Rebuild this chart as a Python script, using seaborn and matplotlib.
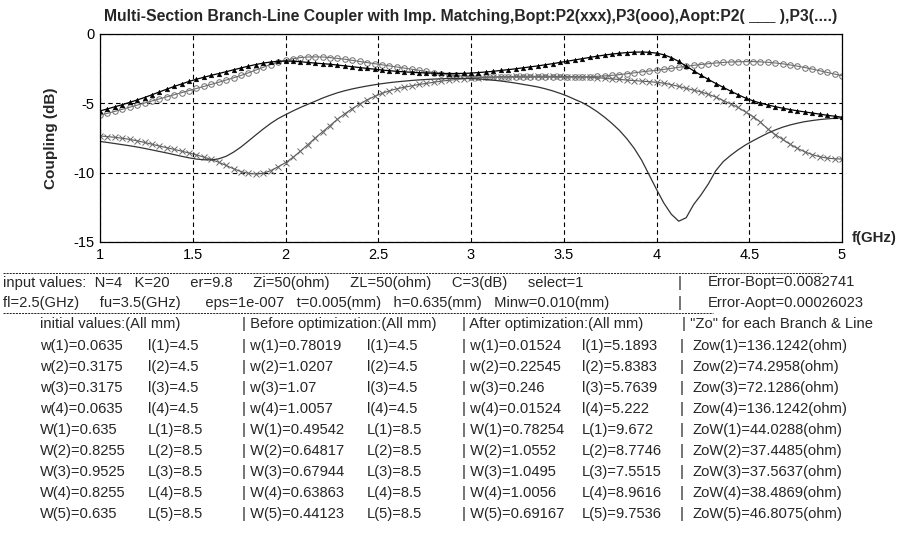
import numpy as np
import pandas as pd
import matplotlib
matplotlib.use('Agg')
import matplotlib.pyplot as plt
from matplotlib.lines import Line2D
import seaborn as sns

# ---- curve data (dB), frequency 1..5 GHz step 0.04 ----
freq = np.round(np.arange(1.0, 5.0001, 0.04), 2)

# Bopt P2 (xxx)
bopt_p2 = [-7.35, -7.40, -7.45, -7.52, -7.60, -7.70, -7.82, -7.95, -8.08, -8.20,
           -8.32, -8.45, -8.58, -8.72, -8.88, -9.05, -9.25, -9.48, -9.72, -9.92,
           -10.05, -10.10, -10.05, -9.85, -9.58, -9.28, -8.90, -8.45, -7.98, -7.50,
           -7.05, -6.60, -6.15, -5.75, -5.38, -5.05, -4.75, -4.50, -4.28, -4.10,
           -3.95, -3.84, -3.74, -3.64, -3.56, -3.48, -3.40, -3.34, -3.28, -3.23,
           -3.19, -3.15, -3.12, -3.10, -3.08, -3.07, -3.06, -3.05, -3.05, -3.05,
           -3.05, -3.05, -3.06, -3.07, -3.08, -3.10, -3.12, -3.15, -3.19, -3.24,
           -3.28, -3.32, -3.36, -3.40, -3.44, -3.48, -3.55, -3.65, -3.78, -3.92,
           -4.05, -4.18, -4.35, -4.55, -4.80, -5.05, -5.30, -5.62, -5.95, -6.35,
           -6.85, -7.25, -7.60, -7.95, -8.25, -8.50, -8.70, -8.85, -8.95, -9.00,
           -9.02]

# Bopt P3 (ooo)
bopt_p3 = [-5.85, -5.72, -5.58, -5.43, -5.28, -5.13, -4.98, -4.83, -4.68, -4.53,
           -4.38, -4.23, -4.08, -3.93, -3.78, -3.63, -3.48, -3.32, -3.16, -2.99,
           -2.80, -2.60, -2.40, -2.20, -2.03, -1.90, -1.78, -1.70, -1.66, -1.65,
           -1.66, -1.70, -1.76, -1.82, -1.90, -1.98, -2.06, -2.14, -2.22, -2.30,
           -2.38, -2.46, -2.54, -2.62, -2.70, -2.78, -2.86, -2.93, -2.99, -3.04,
           -3.08, -3.10, -3.11, -3.12, -3.12, -3.12, -3.12, -3.12, -3.12, -3.12,
           -3.12, -3.12, -3.12, -3.12, -3.11, -3.10, -3.08, -3.05, -3.02, -2.98,
           -2.93, -2.87, -2.80, -2.73, -2.67, -2.62, -2.55, -2.48, -2.40, -2.33,
           -2.26, -2.20, -2.14, -2.09, -2.05, -2.02, -2.00, -1.99, -1.99, -2.01,
           -2.04, -2.09, -2.15, -2.23, -2.32, -2.42, -2.53, -2.65, -2.77, -2.89,
           -3.00]

# Aopt P2 (solid)
aopt_p2 = [-7.75, -7.82, -7.90, -7.98, -8.06, -8.15, -8.25, -8.36, -8.47, -8.58,
           -8.70, -8.82, -8.93, -9.02, -9.07, -9.08, -9.00, -8.82, -8.52, -8.15,
           -7.72, -7.28, -6.85, -6.45, -6.10, -5.82, -5.55, -5.30, -5.07, -4.85,
           -4.62, -4.42, -4.24, -4.09, -3.96, -3.85, -3.75, -3.66, -3.58, -3.51,
           -3.45, -3.40, -3.35, -3.31, -3.28, -3.25, -3.23, -3.21, -3.20, -3.20,
           -3.21, -3.24, -3.28, -3.33, -3.39, -3.46, -3.54, -3.63, -3.72, -3.82,
           -3.95, -4.10, -4.28, -4.48, -4.72, -4.95, -5.25, -5.60, -6.00, -6.45,
           -6.95, -7.55, -8.25, -9.10, -10.15, -11.20, -12.20, -13.00, -13.50, -13.25,
           -12.30, -11.60, -10.80, -9.85, -9.20, -8.75, -8.35, -8.00, -7.70, -7.42,
           -7.15, -6.92, -6.72, -6.56, -6.43, -6.32, -6.24, -6.17, -6.12, -6.08,
           -6.05]

# Aopt P3 (....)
aopt_p3 = [-5.55, -5.40, -5.25, -5.10, -4.93, -4.76, -4.58, -4.38, -4.18, -3.98,
           -3.78, -3.60, -3.42, -3.26, -3.12, -2.98, -2.85, -2.72, -2.58, -2.45,
           -2.32, -2.20, -2.10, -2.02, -1.97, -1.95, -1.96, -2.00, -2.05, -2.10,
           -2.14, -2.18, -2.24, -2.30, -2.36, -2.42, -2.48, -2.54, -2.60, -2.65,
           -2.69, -2.73, -2.76, -2.79, -2.81, -2.83, -2.84, -2.85, -2.85, -2.84,
           -2.82, -2.78, -2.74, -2.69, -2.63, -2.57, -2.51, -2.44, -2.37, -2.30,
           -2.22, -2.14, -2.05, -1.96, -1.87, -1.78, -1.69, -1.60, -1.52, -1.45,
           -1.39, -1.34, -1.31, -1.30, -1.32, -1.38, -1.50, -1.70, -1.98, -2.32,
           -2.65, -2.97, -3.28, -3.57, -3.85, -4.12, -4.38, -4.62, -4.82, -4.98,
           -5.12, -5.24, -5.35, -5.45, -5.54, -5.62, -5.70, -5.78, -5.86, -5.93,
           -6.00]

x_ticks = [1, 1.5, 2, 2.5, 3, 3.5, 4, 4.5, 5]
x_tick_labels = ['1', '1.5', '2', '2.5', '3', '3.5', '4', '4.5', '5']
y_ticks = [0, -5, -10, -15]
y_tick_labels = ['0', '-5', '-10', '-15']

# ---- table values ----
input_line1 = 'input values:  N=4   K=20     er=9.8     Zi=50(ohm)     ZL=50(ohm)     C=3(dB)     select=1'
input_line2 = 'fl=2.5(GHz)     fu=3.5(GHz)      eps=1e-007   t=0.005(mm)   h=0.635(mm)   Minw=0.010(mm)'
err_bopt = 0.0082741
err_aopt = 0.00026023
init_w = [0.0635, 0.3175, 0.3175, 0.0635]
init_l = [4.5, 4.5, 4.5, 4.5]
init_W = [0.635, 0.8255, 0.9525, 0.8255, 0.635]
init_L = [8.5, 8.5, 8.5, 8.5, 8.5]
before_w = [0.78019, 1.0207, 1.07, 1.0057]
before_l = [4.5, 4.5, 4.5, 4.5]
before_W = [0.49542, 0.64817, 0.67944, 0.63863, 0.44123]
before_L = [8.5, 8.5, 8.5, 8.5, 8.5]
after_w = [0.01524, 0.22545, 0.246, 0.01524]
after_l = [5.1893, 5.8383, 5.7639, 5.222]
after_W = [0.78254, 1.0552, 1.0495, 1.0056, 0.69167]
after_L = [9.672, 8.7746, 7.5515, 8.9616, 9.7536]
zo_w = [136.1242, 74.2958, 72.1286, 136.1242]
zo_W = [44.0288, 37.4485, 37.5637, 38.4869, 46.8075]

sns.set_theme(style='white')
plt.rcParams['font.family'] = ['Liberation Sans', 'DejaVu Sans']

W_PX, H_PX = 897, 533
fig = plt.figure(figsize=(W_PX / 100, H_PX / 100), dpi=100)
fig.patch.set_facecolor('white')
ax = fig.add_axes([100 / W_PX, 1 - 242 / H_PX, 742 / W_PX, 208 / H_PX])

sns.lineplot(x=freq, y=bopt_p2, ax=ax, color='#5a5a5a', lw=0.8, marker='x',
             markersize=4.5, mew=0.7, mec='#6a6a6a')
sns.lineplot(x=freq, y=bopt_p3, ax=ax, color='#6e6e6e', lw=0.8, marker='o',
             markersize=4.0, mfc='none', mew=0.7, mec='#707070')
sns.lineplot(x=freq, y=aopt_p2, ax=ax, color='#333333', lw=0.9)
sns.lineplot(x=freq, y=aopt_p3, ax=ax, color='black', lw=0.9, marker='^',
             markersize=3.4, mfc='black', mec='black', mew=0.3)

ax.set_xlim(1, 5)
ax.set_ylim(-15, 0)
ax.set_xticks(x_ticks)
ax.set_xticklabels(x_tick_labels)
ax.set_yticks(y_ticks)
ax.set_yticklabels(y_tick_labels)
ax.tick_params(direction='in', length=3, labelsize=10.5, colors='black', pad=4)
ax.grid(True, color='black', ls=(0, (4, 3)), lw=0.8)
for s in ax.spines.values():
    s.set_color('black')
    s.set_linewidth(0.9)
ax.set_xlabel('')
ax.set_ylabel('Coupling (dB)', fontsize=11, fontweight='bold')
ax.yaxis.set_label_coords((58 - 100) / 742, 0.5)

fig.text(471 / W_PX, 1 - 17 / H_PX,
         'Multi-Section Branch-Line Coupler with Imp. Matching,'
         'Bopt:P2(xxx),P3(ooo),Aopt:P2( ___ ),P3(....)',
         ha='center', va='center', fontsize=11.3, fontweight='bold')
fig.text(852 / W_PX, 1 - 238 / H_PX, 'f(GHz)', ha='left', va='center',
         fontsize=10.8, fontweight='bold')


def put(x, y, s):
    fig.text(x / W_PX, 1 - y / H_PX, s, ha='left', va='center', fontsize=10.6)


def dash(x0, x1, y):
    fig.add_artist(Line2D([x0 / W_PX, x1 / W_PX], [1 - y / H_PX] * 2,
                          color='black', lw=0.6, ls=(0, (2.5, 1.2))))


dash(3, 822, 273)
put(3, 283, input_line1)
put(678, 283, '|')
put(708, 282, f'Error-Bopt={err_bopt}')

put(3, 303, input_line2)
put(678, 303, '|')
put(708, 303, f'Error-Aopt={err_aopt:.8f}')
dash(3, 713, 313)

put(40, 324, 'initial values:(All mm)')
put(242, 324, '| Before optimization:(All mm)')
put(462, 324, '| After optimization:(All mm)')
put(682, 324, '| "Zo" for each Branch & Line')

y0, dy = 346, 21
for i in range(4):
    y = y0 + i * dy
    put(40, y, f'w({i+1})={init_w[i]}')
    put(148, y, f'l({i+1})={init_l[i]}')
    put(242, y, f'| w({i+1})={before_w[i]}')
    put(367, y, f'l({i+1})={before_l[i]}')
    put(462, y, f'| w({i+1})={after_w[i]}')
    put(582, y, f'l({i+1})={after_l[i]}')
    put(680, y, '|')
    put(692, y, f'Zow({i+1})={zo_w[i]}(ohm)')
for i in range(5):
    y = y0 + (i + 4) * dy
    put(40, y, f'W({i+1})={init_W[i]}')
    put(148, y, f'L({i+1})={init_L[i]}')
    put(242, y, f'| W({i+1})={before_W[i]}')
    put(367, y, f'L({i+1})={before_L[i]}')
    put(462, y, f'| W({i+1})={after_W[i]}')
    put(582, y, f'L({i+1})={after_L[i]}')
    put(680, y, '|')
    put(692, y, f'ZoW({i+1})={zo_W[i]}(ohm)')

fig.savefig('out.png', dpi=100, facecolor='white')
